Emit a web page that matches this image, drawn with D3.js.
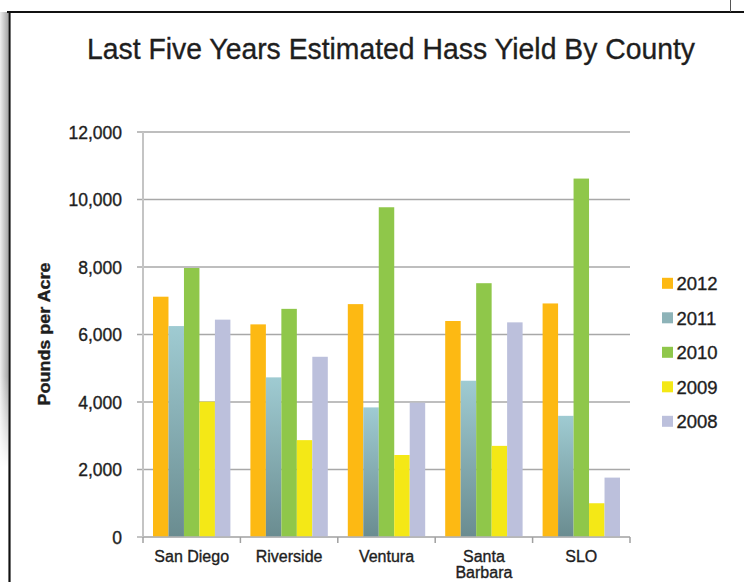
<!DOCTYPE html>
<html lang="en">
  <head>
    <meta charset="utf-8">
    <title>Last Five Years Estimated Hass Yield By County</title>
    <script type="text/javascript" src="https://cdn.jsdelivr.net/npm/d3@7/dist/d3.min.js"></script>
    <style>
      body { margin: 0; background: #fff; }
      text { font-family: "Liberation Sans", Arial, sans-serif; fill: #1e1e1e;
             stroke: #1e1e1e; stroke-width: 0.35px; }
    </style>
  </head>
  <body>
    <script type="text/javascript">
      var width = 744;
      var height = 582;

      var counties = ["San Diego", "Riverside", "Ventura", "Santa Barbara", "SLO"];
      var years = ["2012", "2011", "2010", "2009", "2008"];
      var yield2012 = [7120, 6300, 6900, 6400, 6920];
      var yield2011 = [6250, 4730, 3840, 4630, 3590];
      var yield2010 = [7970, 6760, 9770, 7520, 10620];
      var yield2009 = [4010, 2870, 2430, 2700, 1000];
      var yield2008 = [6440, 5340, 3980, 6360, 1760];
      var yTicks = [0, 2000, 4000, 6000, 8000, 10000, 12000];
      var colors = ["#fdb913", "url(#tealGrad)", "#8fc74a", "#f4e816", "#bcc0dc"];
      var legendColors = ["#fdb913", "#8db3b8", "#8fc74a", "#f4e816", "#bcc0dc"];

      var series = [yield2012, yield2011, yield2010, yield2009, yield2008];
      var rows = counties.map(function(c, i) {
        return years.map(function(y, j) {
          return { county: c, year: y, idx: j, value: series[j][i] };
        });
      });

      // plot box (note: "top" is taken by window.top, so use other names)
      var plotLeft = 143, plotRight = 630, plotTop = 132, plotBottom = 537;

      var x0 = d3.scaleBand().domain(counties).range([plotLeft, plotRight]);
      var x1 = d3.scaleBand().domain(years).range([10, x0.bandwidth() - 10]);
      var yScale = d3.scaleLinear().domain([0, 12000]).range([plotBottom, plotTop]);

      var svg = d3.select("body").append("svg")
                  .attr("width", width)
                  .attr("height", height);

      var defs = svg.append("defs");
      var grad = defs.append("linearGradient").attr("id", "tealGrad")
                     .attr("x1", 0).attr("y1", 0).attr("x2", 0).attr("y2", 1);
      grad.append("stop").attr("offset", "0%").attr("stop-color", "#9fcbd2");
      grad.append("stop").attr("offset", "100%").attr("stop-color", "#6a8c90");
      var shade = defs.append("linearGradient").attr("id", "shade")
                      .attr("x1", 0).attr("y1", 0).attr("x2", 1).attr("y2", 0);
      shade.append("stop").attr("offset", "0%").attr("stop-color", "#eeeeee");
      shade.append("stop").attr("offset", "100%").attr("stop-color", "#a8a8a8");
      var shadeV = defs.append("linearGradient").attr("id", "shadeMask")
                       .attr("x1", 0).attr("y1", 0).attr("x2", 0).attr("y2", 1);
      shadeV.append("stop").attr("offset", "0%").attr("stop-color", "#fff").attr("stop-opacity", 0);
      shadeV.append("stop").attr("offset", "80%").attr("stop-color", "#fff").attr("stop-opacity", 0);
      shadeV.append("stop").attr("offset", "100%").attr("stop-color", "#fff").attr("stop-opacity", 1);

      // frame
      svg.append("rect").attr("x", 0).attr("y", 12).attr("width", 8).attr("height", 455)
         .attr("fill", "url(#shade)");
      svg.append("rect").attr("x", 0).attr("y", 12).attr("width", 8).attr("height", 455)
         .attr("fill", "url(#shadeMask)");
      svg.append("line").attr("x1", 7).attr("x2", width).attr("y1", 12).attr("y2", 12)
         .attr("stroke", "#111").attr("stroke-width", 2.2);
      svg.append("line").attr("x1", 9.5).attr("x2", 9.5).attr("y1", 11).attr("y2", height)
         .attr("stroke", "#111").attr("stroke-width", 2.2);
      svg.append("line").attr("x1", 730.5).attr("x2", 730.5).attr("y1", 0).attr("y2", 12)
         .attr("stroke", "#555").attr("stroke-width", 1);

      // title
      svg.append("text").attr("x", 87).attr("y", 59)
         .attr("font-size", "30px")
         .attr("textLength", 608).attr("lengthAdjust", "spacingAndGlyphs")
         .text("Last Five Years Estimated Hass Yield By County");

      // gridlines and y ticks
      svg.selectAll(".grid").data(yTicks).enter().append("line")
         .attr("x1", plotLeft - 6).attr("x2", plotRight)
         .attr("y1", function(d) { return yScale(d); })
         .attr("y2", function(d) { return yScale(d); })
         .attr("stroke", function(d) { return d === 0 ? "#b0b0b0" : "#a8a8a8"; })
         .attr("stroke-width", 1.6);

      svg.selectAll(".ylab").data(yTicks).enter().append("text")
         .attr("x", 122)
         .attr("y", function(d) { return yScale(d) + 6.5; })
         .attr("text-anchor", "end")
         .attr("font-size", "17.5px")
         .text(function(d) { return d3.format(",")(d); });

      // bars
      var groups = svg.selectAll(".county").data(rows).enter().append("g")
         .attr("transform", function(d, i) { return "translate(" + x0(counties[i]) + ",0)"; });
      groups.selectAll("rect").data(function(d) { return d; }).enter().append("rect")
         .attr("x", function(d) { return x1(d.year); })
         .attr("width", x1.bandwidth())
         .attr("y", function(d) { return yScale(d.value); })
         .attr("height", function(d) { return plotBottom - yScale(d.value); })
         .attr("fill", function(d) { return colors[d.idx]; });

      // axes lines
      svg.append("line").attr("x1", plotLeft).attr("x2", plotLeft)
         .attr("y1", plotTop).attr("y2", plotBottom + 1)
         .attr("stroke", "#c4c4c4").attr("stroke-width", 2);
      svg.append("line").attr("x1", plotLeft).attr("x2", plotRight)
         .attr("y1", plotBottom).attr("y2", plotBottom)
         .attr("stroke", "#b4b4b4").attr("stroke-width", 1.6);
      var xTicks = counties.map(function(c) { return x0(c); }).concat([plotRight]);
      svg.selectAll(".xtick").data(xTicks).enter().append("line")
         .attr("x1", function(d) { return d; }).attr("x2", function(d) { return d; })
         .attr("y1", plotBottom).attr("y2", plotBottom + 6)
         .attr("stroke", "#a0a0a0").attr("stroke-width", 1.5);

      // x labels
      var xl = svg.selectAll(".xlab").data(counties).enter().append("text")
         .attr("x", function(d) { return x0(d) + x0.bandwidth() / 2; })
         .attr("y", 561.5)
         .attr("text-anchor", "middle")
         .attr("font-size", "16px");
      xl.each(function(d) {
        var words = d === "Santa Barbara" ? ["Santa", "Barbara"] : [d];
        var t = d3.select(this);
        words.forEach(function(w, k) {
          t.append("tspan")
           .attr("x", x0(d) + x0.bandwidth() / 2)
           .attr("dy", k === 0 ? 0 : 16.5)
           .text(w);
        });
      });

      // y axis title
      svg.append("text")
         .attr("transform", "translate(50,334) rotate(-90)")
         .attr("text-anchor", "middle")
         .attr("font-size", "16.5px")
         .attr("font-weight", "bold")
         .attr("textLength", 143).attr("lengthAdjust", "spacingAndGlyphs")
         .text("Pounds per Acre");

      // legend
      var leg = svg.selectAll(".leg").data(years).enter().append("g")
         .attr("transform", function(d, i) { return "translate(662," + (283.3 + i * 34.5) + ")"; });
      leg.append("rect").attr("x", 0).attr("y", -5.5).attr("width", 11).attr("height", 11)
         .attr("fill", function(d, i) { return legendColors[i]; });
      leg.append("text").attr("x", 14.5).attr("y", 6.8)
         .attr("font-size", "18.5px")
         .text(function(d) { return d; });
    </script>
  </body>
</html>
